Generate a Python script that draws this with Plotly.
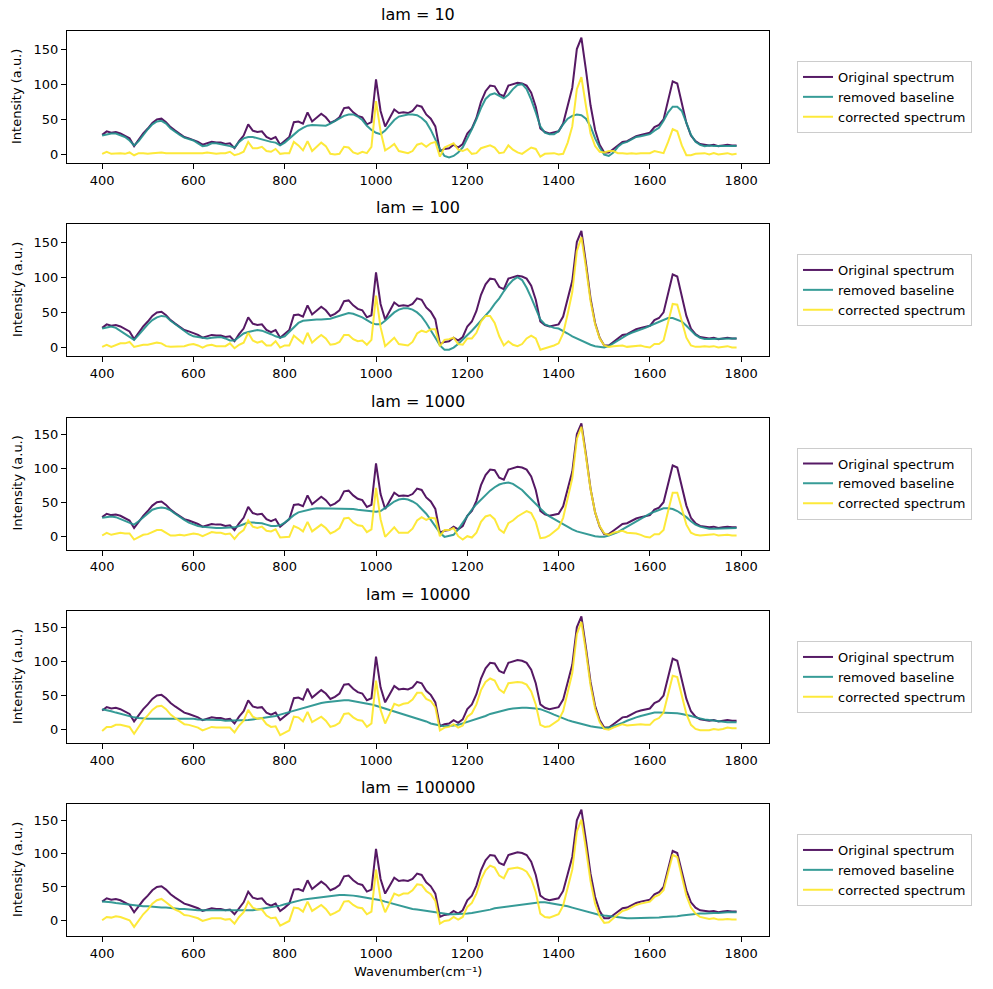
import numpy as np
import plotly.graph_objects as go

# ---------------- data ----------------
wavenumber = np.arange(400, 1800, 10)

original = [
    28, 33, 31, 32, 30, 26, 23, 12, 21, 30,
    37, 45, 50, 51, 46, 39, 34, 30, 25, 23,
    21, 18, 14, 16, 18, 17, 17, 15, 16, 9,
    19, 27, 43, 34, 32, 33, 25, 22, 25, 14,
    19, 25, 46, 47, 44, 60, 47, 53, 58, 53,
    45, 48, 53, 66, 67, 60, 55, 53, 43, 46,
    107, 62, 40, 52, 64, 59, 60, 59, 62, 70,
    68, 57, 51, 40, 5, 8, 9, 14, 10, 15,
    30, 37, 52, 75, 90, 98, 97, 86, 83, 98,
    100, 102, 101, 98, 88, 68, 37, 32, 30, 31,
    33, 44, 68, 95, 150, 166, 120, 70, 35, 14,
    3, 3, 8, 13, 18, 19, 23, 26, 28, 29,
    31, 39, 42, 50, 78, 104, 101, 75, 45, 27,
    19, 15, 14, 13, 14, 12, 13, 14, 13, 13,
]

baseline_lam10 = [
    27, 29, 30, 30, 28, 25, 20, 13, 19, 28,
    36, 43, 47, 48, 44, 37, 32, 28, 24, 22,
    20, 16, 12, 13, 16, 16, 15, 13, 12, 10,
    18, 23, 25, 25, 23, 22, 20, 18, 17, 13,
    17, 23, 28, 34, 38, 41, 42, 42, 41, 41,
    44, 48, 52, 55, 57, 57, 54, 49, 41, 35,
    31, 29, 34, 42, 49, 54, 56, 57, 57, 56,
    52, 46, 35, 22, 8, -2, -4, -2, 3, 10,
    22, 36, 50, 66, 79, 85, 87, 84, 80, 85,
    93, 99, 100, 93, 78, 60, 40, 31, 29, 29,
    33, 43, 51, 55, 57, 56, 51, 40, 23, 10,
    0, -2, 3, 11, 16, 18, 21, 25, 26, 27,
    29, 34, 38, 48, 60, 68, 68, 62, 46, 28,
    18, 14, 12, 13, 12, 12, 12, 12, 13, 12,
]

baseline_lam100 = [
    27, 29, 30, 28, 24, 20, 15, 11, 18, 26,
    33, 39, 43, 45, 44, 38, 33, 28, 23, 19,
    16, 15, 14, 13, 14, 15, 15, 13, 10, 10,
    15, 20, 22, 24, 25, 24, 22, 19, 16, 14,
    16, 22, 29, 35, 38, 39, 40, 40, 40, 40,
    41, 43, 45, 48, 49, 48, 46, 43, 39, 35,
    33, 33, 38, 44, 50, 54, 56, 56, 54, 50,
    44, 35, 25, 14, 3, -3, -3, 0, 5, 11,
    17, 24, 31, 38, 45, 53, 62, 70, 80, 89,
    96, 100, 96, 85, 71, 55, 40, 33, 30, 28,
    27, 24, 20, 16, 13, 9, 6, 4, 2, 1,
    0, 2, 6, 11, 15, 18, 21, 23, 25, 28,
    31, 34, 37, 40, 42, 42, 40, 37, 31, 24,
    18, 14, 12, 12, 12, 12, 12, 12, 13, 13,
]

baseline_lam1000 = [
    27, 28, 29, 28, 25, 22, 19, 17, 22, 28,
    34, 39, 41, 42, 41, 38, 33, 28, 24, 20,
    17, 15, 14, 13, 12, 12, 12, 12, 12, 13,
    15, 18, 20, 20, 20, 19, 17, 15, 15, 16,
    20, 26, 31, 35, 37, 39, 40, 41, 41, 41,
    41, 41, 41, 40, 40, 40, 39, 38, 37, 36,
    36, 37, 41, 46, 51, 54, 55, 54, 51, 47,
    40, 33, 24, 14, 5, -1, 0, 2, 10, 20,
    30, 39, 47, 54, 61, 67, 72, 76, 78, 79,
    77, 73, 68, 61, 54, 47, 40, 34, 29, 25,
    21, 17, 13, 10, 7, 5, 3, 1, 0, -1,
    -1, 1, 3, 6, 10, 14, 18, 22, 26, 30,
    33, 36, 39, 41, 41, 40, 37, 33, 28, 22,
    17, 14, 12, 11, 11, 11, 11, 12, 12, 12,
]

baseline_lam10000 = [
    30, 29, 27, 25, 23, 21, 19, 18, 17, 16,
    16, 16, 16, 16, 16, 17, 17, 17, 17, 16,
    16, 15, 15, 14, 14, 14, 14, 13, 13, 13,
    13, 14, 14, 15, 16, 16, 17, 18, 20, 22,
    24, 26, 27, 29, 32, 34, 36, 38, 39, 40,
    41, 42, 43, 43, 43, 42, 41, 40, 39, 37,
    35, 33, 31, 29, 26, 24, 22, 20, 18, 16,
    14, 12, 9, 7, 6, 5, 5, 6, 7, 9,
    11, 13, 15, 17, 20, 23, 25, 27, 29, 30,
    31, 32, 32, 32, 32, 31, 30, 28, 25, 22,
    19, 17, 14, 12, 10, 8, 6, 5, 4, 3,
    2, 3, 5, 8, 10, 13, 16, 18, 20, 22,
    24, 25, 25, 25, 25, 25, 24, 23, 22, 20,
    18, 16, 15, 14, 13, 12, 12, 11, 11, 11,
]

baseline_lam100000 = [
    28, 28, 27, 26, 25, 24, 23, 22, 22, 21,
    21, 20, 20, 19, 19, 18, 18, 17, 17, 16,
    16, 15, 15, 15, 15, 14, 14, 14, 14, 14,
    14, 15, 15, 15, 16, 17, 18, 19, 21, 22,
    24, 26, 27, 29, 31, 32, 33, 34, 35, 36,
    37, 37, 38, 38, 38, 37, 36, 35, 34, 33,
    31, 30, 28, 26, 24, 22, 20, 19, 17, 16,
    15, 13, 12, 11, 10, 9, 9, 9, 9, 10,
    10, 11, 12, 14, 15, 16, 18, 19, 20, 21,
    22, 23, 24, 25, 26, 26, 27, 27, 26, 25,
    24, 22, 21, 19, 17, 15, 13, 11, 10, 8,
    7, 6, 5, 4, 4, 3, 3, 3, 3, 3,
    3, 4, 4, 5, 5, 6, 6, 7, 8, 8,
    9, 10, 10, 11, 11, 11, 12, 12, 12, 12,
]

lam_values = [10, 100, 1000, 10000, 100000]
baselines = [baseline_lam10, baseline_lam100, baseline_lam1000,
             baseline_lam10000, baseline_lam100000]

x_ticks = [400, 600, 800, 1000, 1200, 1400, 1600, 1800]
y_ticks = [0, 50, 100, 150]

# ---------------- layout constants ----------------
W, H = 993, 989
ax_left, ax_right = 67, 769
panel_tops = [31, 224, 417.5, 611, 804]
panel_h = 132
y_ranges = [(-12, 175.6), (-12, 175.7), (-19.6, 174.6), (-19.6, 174), (-23.6, 174.5)]
x_range = (323, 1861)

C_ORIG = "#440154"
C_BASE = "#21918c"
C_CORR = "#fde725"
FONT = "DejaVu Sans"

fig = go.Figure()
annotations = []
layout_upd = {}

orig_arr = np.array(original, dtype=float)

for i, (lam, base) in enumerate(zip(lam_values, baselines)):
    k = i + 1
    xa = "x" if k == 1 else f"x{k}"
    ya = "y" if k == 1 else f"y{k}"
    lg = "legend" if k == 1 else f"legend{k}"
    base_arr = np.array(base, dtype=float)
    corrected = orig_arr - base_arr

    fig.add_trace(go.Scatter(x=wavenumber, y=orig_arr, mode="lines",
                             name="Original spectrum", xaxis=xa, yaxis=ya, legend=lg,
                             line=dict(color=C_ORIG, width=2), opacity=0.9))
    fig.add_trace(go.Scatter(x=wavenumber, y=base_arr, mode="lines",
                             name="removed baseline", xaxis=xa, yaxis=ya, legend=lg,
                             line=dict(color=C_BASE, width=2), opacity=0.9))
    fig.add_trace(go.Scatter(x=wavenumber, y=corrected, mode="lines",
                             name="corrected spectrum", xaxis=xa, yaxis=ya, legend=lg,
                             line=dict(color=C_CORR, width=2), opacity=0.9))

    top = panel_tops[i]
    bot = top + panel_h
    dom_y = [1 - bot / H, 1 - top / H]
    xkey = "xaxis" if k == 1 else f"xaxis{k}"
    ykey = "yaxis" if k == 1 else f"yaxis{k}"
    layout_upd[xkey] = dict(
        domain=[ax_left / W, ax_right / W], anchor=ya, range=list(x_range),
        tickvals=x_ticks, ticks="outside", ticklen=5, tickwidth=1, tickcolor="black",
        showline=True, linecolor="black", linewidth=1, mirror=True,
        showgrid=False, zeroline=False,
        tickfont=dict(family=FONT, size=13, color="black"))
    layout_upd[ykey] = dict(
        domain=dom_y, anchor=xa, range=list(y_ranges[i]),
        tickvals=y_ticks, ticks="outside", ticklen=5, tickwidth=1, tickcolor="black",
        showline=True, linecolor="black", linewidth=1, mirror=True,
        showgrid=False, zeroline=False,
        tickfont=dict(family=FONT, size=13, color="black"))
    layout_upd[lg] = dict(
        x=797 / W, xanchor="left", y=1 - (top + panel_h / 2) / H, yanchor="middle",
        bgcolor="white", bordercolor="#cccccc", borderwidth=1,
        font=dict(family=FONT, size=13, color="black"), itemwidth=30,
        tracegroupgap=0)

    # title
    annotations.append(dict(
        text=f"lam = {lam}", x=(ax_left + ax_right) / 2 / W, y=1 - (top - 5) / H,
        xref="paper", yref="paper", xanchor="center", yanchor="bottom",
        showarrow=False, font=dict(family=FONT, size=16, color="black")))
    # y label
    annotations.append(dict(
        text="Intensity (a.u.)", x=17 / W, y=1 - (top + panel_h / 2) / H,
        xref="paper", yref="paper", xanchor="center", yanchor="middle",
        textangle=-90, showarrow=False, font=dict(family=FONT, size=13, color="black")))

annotations.append(dict(
    text="Wavenumber(cm⁻¹)", x=(ax_left + ax_right) / 2 / W, y=1 - 971 / H,
    xref="paper", yref="paper", xanchor="center", yanchor="middle",
    showarrow=False, font=dict(family=FONT, size=13, color="black")))

fig.update_layout(
    width=W, height=H, margin=dict(l=0, r=0, t=0, b=0),
    paper_bgcolor="white", plot_bgcolor="white",
    showlegend=True, annotations=annotations,
    font=dict(family=FONT, size=13, color="black"),
    **layout_upd)

fig.write_html("out.html")
